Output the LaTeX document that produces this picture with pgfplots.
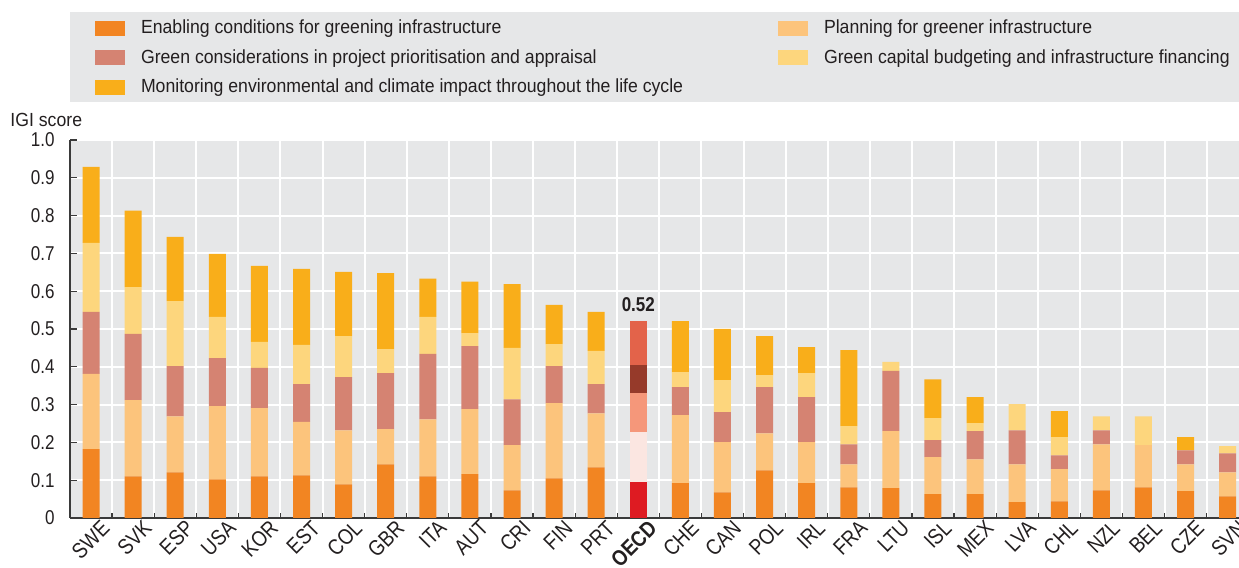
\documentclass[border=0pt]{standalone}
\usepackage{fontspec}
\setmainfont{Liberation Sans}[FakeStretch=0.93]
\newfontfamily\tickfont{Liberation Sans}[FakeStretch=0.85]
\usepackage{pgfplots}
\pgfplotsset{compat=1.18}
\usepackage{pgfplotstable}
\definecolor{cE}{HTML}{F28522}
\definecolor{cP}{HTML}{FCC47C}
\definecolor{cG}{HTML}{D58372}
\definecolor{cC}{HTML}{FDD67D}
\definecolor{cM}{HTML}{F9AE1A}
\definecolor{oE}{HTML}{DE1B22}
\definecolor{oP}{HTML}{FBE6E1}
\definecolor{oG}{HTML}{F5977A}
\definecolor{oC}{HTML}{963A2A}
\definecolor{oM}{HTML}{E3634A}
\definecolor{bggray}{HTML}{E6E7E8}
\definecolor{axiscol}{HTML}{3A3A3A}
\definecolor{textcol}{HTML}{231F20}
\newcommand\cf{\fontsize{9.5}{11}\selectfont}
\newcommand\tf{\tickfont\fontsize{10}{12}\selectfont}
\newcommand\xf{\tickfont\fontsize{11}{13}\selectfont}
\pgfplotstableread{
x e p g c m oe op og oc om
0 0.182 0.199 0.164 0.183 0.201 0 0 0 0 0
1 0.110 0.202 0.175 0.124 0.202 0 0 0 0 0
2 0.121 0.148 0.133 0.172 0.170 0 0 0 0 0
3 0.102 0.194 0.127 0.109 0.167 0 0 0 0 0
4 0.110 0.181 0.106 0.069 0.201 0 0 0 0 0
5 0.113 0.141 0.100 0.104 0.201 0 0 0 0 0
6 0.089 0.143 0.141 0.108 0.170 0 0 0 0 0
7 0.142 0.093 0.148 0.064 0.201 0 0 0 0 0
8 0.110 0.151 0.173 0.098 0.101 0 0 0 0 0
9 0.116 0.172 0.167 0.034 0.136 0 0 0 0 0
10 0.073 0.120 0.121 0.136 0.169 0 0 0 0 0
11 0.105 0.199 0.098 0.058 0.104 0 0 0 0 0
12 0.134 0.143 0.077 0.088 0.103 0 0 0 0 0
13 0 0 0 0 0 0.095 0.132 0.103 0.075 0.116
14 0.092 0.180 0.074 0.040 0.135 0 0 0 0 0
15 0.068 0.133 0.079 0.085 0.135 0 0 0 0 0
16 0.126 0.098 0.122 0.032 0.103 0 0 0 0 0
17 0.092 0.109 0.119 0.063 0.069 0 0 0 0 0
18 0.081 0.061 0.053 0.048 0.201 0 0 0 0 0
19 0.079 0.151 0.159 0.024 0 0 0 0 0 0
20 0.063 0.098 0.045 0.058 0.103 0 0 0 0 0
21 0.063 0.092 0.075 0.021 0.069 0 0 0 0 0
22 0.042 0.100 0.090 0.069 0 0 0 0 0 0
23 0.044 0.085 0.037 0.048 0.069 0 0 0 0 0
24 0.073 0.122 0.037 0.037 0 0 0 0 0 0
25 0.081 0.112 0 0.076 0 0 0 0 0 0
26 0.071 0.071 0.037 0 0.035 0 0 0 0 0
27 0.057 0.064 0.050 0.019 0 0 0 0 0 0
}\data
\begin{document}
\begin{tikzpicture}
\useasboundingbox (0,0) rectangle (619.5pt,284pt);
\fill[bggray] (35pt,233pt) rectangle (619.5pt,278pt);
\begin{axis}[
  at={(35pt,25pt)}, anchor=south west,
  scale only axis, width=584.5pt, height=189pt,
  ybar stacked, bar width=8.5pt,
  xmin=-0.5, xmax=27.27, ymin=0, ymax=1,
  axis background/.style={fill=bggray},
  axis x line*=bottom, axis y line*=left,
  axis line style={draw=axiscol, line width=1pt},
  tick align=inside,
  xtick={0,...,27},
  xticklabels={SWE,SVK,ESP,USA,KOR,EST,COL,GBR,ITA,AUT,CRI,FIN,PRT,\textbf{OECD},CHE,CAN,POL,IRL,FRA,LTU,ISL,MEX,LVA,CHL,NZL,BEL,CZE,SVN},
  minor xtick={0.5,1.5,...,26.5},
  ytick={0,0.1,0.2,0.3,0.4,0.5,0.6,0.7,0.8,0.9,1},
  yticklabels={0,0.1,0.2,0.3,0.4,0.5,0.6,0.7,0.8,0.9,1.0},
  ymajorgrids, xminorgrids,
  major grid style={white, line width=1pt},
  minor grid style={white, line width=1pt},
  major x tick style={draw=none},
  major tick length=3.5pt, minor tick length=2.5pt,
  tick style={draw=axiscol, line width=0.6pt},
  /pgf/number format/assume math mode=true,
  yticklabel style={font=\tf, text=textcol, inner sep=0pt, xshift=-7.5pt},
  xticklabel style={font=\xf, text=textcol, rotate=45, anchor=east, inner sep=0pt, xshift=3pt, yshift=-7.5pt},
  every axis y label/.style={at={(axis description cs:-0.0513,1.053)}, anchor=west, inner sep=0pt, font=\cf, text=textcol},
  ylabel={IGI score},
  legend columns=2,
  legend cell align=left,
  legend style={at={(0.0214,1.3175)}, anchor=north west, draw=none, fill=none,
    inner sep=0pt, outer sep=0pt, row sep=6.3pt, column sep=0pt,
    nodes={inner sep=0pt, font=\cf, text=textcol}},
  every axis plot post/.append style={legend image code/.code={\path[##1] (0pt,-3.75pt) rectangle (15pt,3.75pt); \path (23pt,0pt);}},
]
\addplot[fill=cE, draw=none] table[x=x, y=e] {\data};
\addlegendentry{\makebox[318.5pt][l]{Enabling conditions for greening infrastructure}}
\addplot[fill=cP, draw=none] table[x=x, y=p] {\data};
\addlegendentry{Planning for greener infrastructure}
\addplot[fill=cG, draw=none] table[x=x, y=g] {\data};
\addlegendentry{\makebox[318.5pt][l]{Green considerations in project prioritisation and appraisal}}
\addplot[fill=cC, draw=none] table[x=x, y=c] {\data};
\addlegendentry{Green capital budgeting and infrastructure financing}
\addplot[fill=cM, draw=none] table[x=x, y=m] {\data};
\addlegendentry{\makebox[318.5pt][l]{Monitoring environmental and climate impact throughout the life cycle}}
\addplot[fill=oE, draw=none, forget plot] table[x=x, y=oe] {\data};
\addplot[fill=oP, draw=none, forget plot] table[x=x, y=op] {\data};
\addplot[fill=oG, draw=none, forget plot] table[x=x, y=og] {\data};
\addplot[fill=oC, draw=none, forget plot] table[x=x, y=oc] {\data};
\addplot[fill=oM, draw=none, forget plot] table[x=x, y=om] {\data};
\node[font=\bfseries\tf, text=textcol, anchor=south, inner sep=0pt, yshift=4.5pt] at (axis cs:13,0.521) {0.52};
\end{axis}
\end{tikzpicture}
\end{document}
